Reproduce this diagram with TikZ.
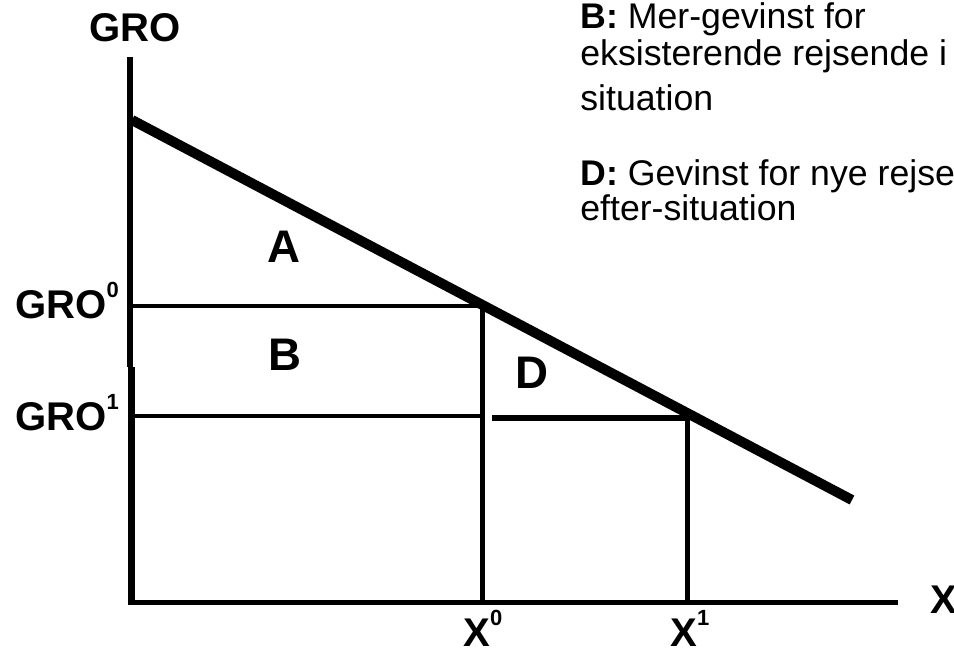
\documentclass[tikz,border=0pt]{standalone}
\usepackage{fontspec}
\setmainfont{Liberation Sans}
\newcommand\supnum[1]{\raisebox{11.5pt}{\fontsize{12.5}{12.5}\selectfont\bfseries #1}}
\begin{document}
\begin{tikzpicture}[x=0.02cm,y=-0.02cm,
  lbl/.style={inner sep=0,font=\fontsize{22.8}{22.8}\selectfont\bfseries},
  area/.style={inner sep=0,anchor=base,font=\fontsize{26}{26}\selectfont\bfseries},
  note/.style={inner sep=0,anchor=base west,font=\fontsize{20.3}{20.3}\selectfont},
  demand/.style={line width=5.7pt},
  axisthin/.style={line width=2.9pt},
  axisthick/.style={line width=4.5pt},
  guide/.style={line width=3pt},
  guidethin/.style={line width=2.6pt}]
\useasboundingbox (0,0) rectangle (954,650);
\clip (0,0) rectangle (954,650);
% coordinates
\coordinate (Ytop) at (130,57);
\coordinate (Ymid) at (130,367);
\coordinate (Ymid2) at (131.5,367);
\coordinate (Ybot) at (131.5,605);
\coordinate (Ox) at (127.5,602.5);
\coordinate (Xend) at (898,602.5);
\coordinate (L0) at (132,120);
\coordinate (L1) at (852,500);
\coordinate (G0) at (130,306);
\coordinate (P0) at (482.5,306);
\coordinate (X0) at (482.5,602);
\coordinate (G1) at (130,416);
\coordinate (G1m) at (483,416);
\coordinate (G1n) at (492,418);
\coordinate (P1) at (687.5,418);
\coordinate (X1) at (687.5,602);
% axes
\draw[axisthin] (Ytop) -- (Ymid);
\draw[axisthick] (Ymid2) -- (Ybot);
\draw[axisthin] (Ox) -- (Xend);
% guides
\draw[guidethin] (G0) -- (P0);
\draw[guidethin] (P0) -- (X0);
\draw[guidethin] (G1) -- (G1m);
\draw[guide] (G1n) -- (P1);
\draw[guidethin] (P1) -- (X1);
% demand line
\draw[demand] (L0) -- (L1);
% labels
\node[lbl,anchor=base] (gro) at (135,41) {GRO};
\node[lbl,anchor=base west] (gro0) at (15,318) {GRO\supnum{0}};
\node[lbl,anchor=base west] (gro1) at (15,430) {GRO\supnum{1}};
\node[lbl,anchor=base west] (x0) at (463,646) {X\supnum{0}};
\node[lbl,anchor=base west] (x1) at (670,646) {X\supnum{1}};
\node[lbl,anchor=base west] (xax) at (930,613) {X};
\node[area] (A) at (284,262) {A};
\node[area] (B) at (285,370) {B};
\node[area] (D) at (532,388) {D};
% notes
\node[note] (n1) at (580,28) {\textbf{B:} Mer-gevinst for};
\node[note] (n2) at (580,65) {eksisterende rejsende i};
\node[note] (n3) at (580,110) {situation};
\node[note] (n4) at (580,185) {\textbf{D:} Gevinst for nye rejse};
\node[note] (n5) at (580,220) {efter-situation};
\end{tikzpicture}
\end{document}
